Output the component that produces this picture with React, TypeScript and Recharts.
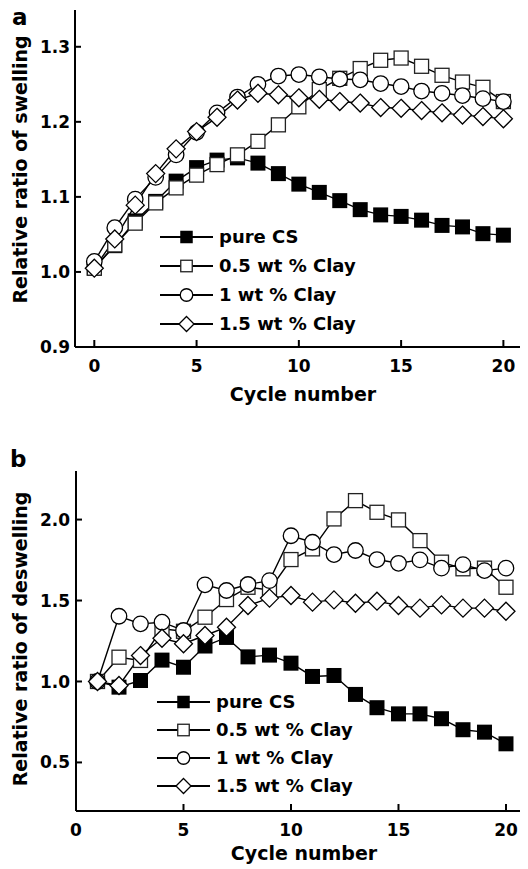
import React from 'react';
import { LineChart, Line, XAxis, YAxis, Legend, Label } from 'recharts';

const FONT = '"DejaVu Sans", "Liberation Sans", Arial, sans-serif';

// panel a: swelling
const cyclesA = [0, 1, 2, 3, 4, 5, 6, 7, 8, 9, 10, 11, 12, 13, 14, 15, 16, 17, 18, 19, 20];
const pureCsA = [1.005, 1.035, 1.068, 1.094, 1.121, 1.139, 1.149, 1.152, 1.145, 1.131, 1.117, 1.106, 1.095, 1.083, 1.076, 1.074, 1.069, 1.062, 1.06, 1.051, 1.049];
const clay05A = [1.005, 1.036, 1.065, 1.092, 1.112, 1.129, 1.143, 1.156, 1.174, 1.196, 1.22, 1.243, 1.258, 1.271, 1.282, 1.285, 1.274, 1.262, 1.253, 1.246, 1.227];
const clay1A = [1.014, 1.059, 1.097, 1.126, 1.156, 1.186, 1.212, 1.233, 1.25, 1.261, 1.263, 1.26, 1.257, 1.256, 1.251, 1.247, 1.241, 1.238, 1.235, 1.231, 1.227];
const clay15A = [1.005, 1.044, 1.089, 1.131, 1.164, 1.187, 1.206, 1.229, 1.238, 1.236, 1.232, 1.23, 1.227, 1.225, 1.219, 1.218, 1.215, 1.212, 1.209, 1.207, 1.204];

// panel b: deswelling
const cyclesB = [1, 2, 3, 4, 5, 6, 7, 8, 9, 10, 11, 12, 13, 14, 15, 16, 17, 18, 19, 20];
const pureCsB = [1.0, 0.965, 1.006, 1.132, 1.088, 1.219, 1.272, 1.152, 1.163, 1.113, 1.031, 1.037, 0.92, 0.838, 0.8, 0.8, 0.77, 0.702, 0.687, 0.615];
const clay05B = [1.0, 1.15, 1.13, 1.325, 1.31, 1.397, 1.506, 1.582, 1.565, 1.753, 1.819, 2.004, 2.117, 2.045, 1.998, 1.87, 1.737, 1.696, 1.7, 1.582];
const clay1B = [1.0, 1.403, 1.356, 1.366, 1.315, 1.597, 1.562, 1.599, 1.623, 1.9, 1.86, 1.784, 1.809, 1.753, 1.73, 1.751, 1.7, 1.722, 1.685, 1.7];
const clay15B = [1.0, 0.975, 1.16, 1.267, 1.233, 1.284, 1.335, 1.469, 1.515, 1.531, 1.49, 1.504, 1.483, 1.496, 1.469, 1.453, 1.473, 1.453, 1.453, 1.434];

const seriesNames = ['pure CS', '0.5 wt % Clay', '1 wt % Clay', '1.5 wt % Clay'];
const seriesKeys = ['pure', 'c05', 'c1', 'c15'];
const seriesMarkers = ['filledSquare', 'openSquare', 'circle', 'diamond'];

const cycleTicks = [0, 5, 10, 15, 20];
const cycleMinor = [2.5, 7.5, 12.5, 17.5];
const swellTicks = [0.9, 1.0, 1.1, 1.2, 1.3];
const swellMinor = [0.95, 1.05, 1.15, 1.25];
const deswellTicks = [0.5, 1.0, 1.5, 2.0];
const deswellMinor = [0.25, 0.75, 1.25, 1.75, 2.25];

const swellRows = cyclesA.map((c, i) => ({ cycle: c, pure: pureCsA[i], c05: clay05A[i], c1: clay1A[i], c15: clay15A[i] }));
const deswellRows = cyclesB.map((c, i) => ({ cycle: c, pure: pureCsB[i], c05: clay05B[i], c1: clay1B[i], c15: clay15B[i] }));

const axisStyle = { stroke: '#000', strokeWidth: 2 };
const minorTick = { stroke: '#000', strokeWidth: 1.5 };
const tickStyle = { fill: '#000', fontSize: 17, fontWeight: 'bold', fontFamily: FONT };
const blank = () => '';

function Marker({ kind, cx, cy, size }: { kind: string; cx: number; cy: number; size: number }) {
  const h = size / 2;
  if (kind === 'filledSquare') return <rect x={cx - h} y={cy - h} width={size} height={size} fill="#000" />;
  if (kind === 'openSquare')
    return <rect x={cx - h + 0.5} y={cy - h + 0.5} width={size - 1} height={size - 1} fill="#fff" stroke="#222" strokeWidth={1.3} />;
  if (kind === 'circle') return <circle cx={cx} cy={cy} r={h} fill="#fff" stroke="#000" strokeWidth={1.3} />;
  const d = h * 1.2;
  return (
    <polygon
      points={`${cx},${cy - d} ${cx + d},${cy} ${cx},${cy + d} ${cx - d},${cy}`}
      fill="#fff"
      stroke="#000"
      strokeWidth={1.3}
    />
  );
}

const dotFor = (kind: string) => (p: any) => {
  if (p.cx == null || p.cy == null) return <g key={`${kind}-${p.index}`} />;
  return <Marker key={`${kind}-${p.index}`} kind={kind} cx={p.cx} cy={p.cy} size={kind === 'circle' ? 15.5 : 15} />;
};

function LegendBox({ rowHeight }: { rowHeight: number }) {
  return (
    <div style={{ fontFamily: FONT, fontWeight: 'bold', fontSize: 18, color: '#000' }}>
      {seriesNames.map((name, i) => (
        <div key={name} style={{ display: 'flex', alignItems: 'center', height: rowHeight }}>
          <svg width={53} height={20} style={{ display: 'block' }}>
            <line x1={0} y1={10} x2={53} y2={10} stroke="#000" strokeWidth={2} />
            <Marker kind={seriesMarkers[i]} cx={26.5} cy={10} size={12.5} />
          </svg>
          <span style={{ marginLeft: 6, lineHeight: 1 }}>{name}</span>
        </div>
      ))}
    </div>
  );
}

// minor ticks and the top/right frame lines go on extra axes; zero-size ones first so they sit on the plot edge
function frame(xDomain: number[], yDomain: number[], yTicks: number[], yMinor: number[], rightW: number, labelOffset: number) {
  return [
    <XAxis key="bm" xAxisId="bm" type="number" dataKey="cycle" domain={xDomain} allowDataOverflow ticks={cycleMinor} interval={0}
      height={0} axisLine={false} tickLine={minorTick} tickSize={-4} tickFormatter={blank} />,
    <XAxis key="tm" xAxisId="tm" orientation="top" type="number" dataKey="cycle" domain={xDomain} allowDataOverflow ticks={cycleMinor} interval={0}
      height={0} axisLine={false} tickLine={minorTick} tickSize={-4} tickFormatter={blank} />,
    <XAxis key="t" xAxisId="t" orientation="top" type="number" dataKey="cycle" domain={xDomain} allowDataOverflow ticks={cycleTicks} interval={0}
      height={0} axisLine={axisStyle} tickLine={axisStyle} tickSize={-7} tickFormatter={blank} />,
    <XAxis key="b" type="number" dataKey="cycle" domain={xDomain} allowDataOverflow ticks={cycleTicks} interval={0}
      height={60} axisLine={axisStyle} tickLine={axisStyle} tickSize={-7} tickMargin={20} tick={tickStyle}>
      <Label value="Cycle number" position="insideBottom" offset={labelOffset} fill="#000" fontSize={19} fontWeight="bold" fontFamily={FONT} />
    </XAxis>,
    <YAxis key="lm" yAxisId="lm" type="number" domain={yDomain} allowDataOverflow ticks={yMinor} interval={0}
      width={0} axisLine={false} tickLine={minorTick} tickSize={-4} tickFormatter={blank} />,
    <YAxis key="rm" yAxisId="rm" orientation="right" type="number" domain={yDomain} allowDataOverflow ticks={yMinor} interval={0}
      width={0} axisLine={false} tickLine={minorTick} tickSize={-4} tickFormatter={blank} />,
    <YAxis key="r" yAxisId="r" orientation="right" type="number" domain={yDomain} allowDataOverflow ticks={yTicks} interval={0}
      width={rightW} axisLine={axisStyle} tickLine={axisStyle} tickSize={-7} tickFormatter={blank} />,
  ];
}

function seriesLines() {
  return seriesKeys.map((k, i) => (
    <Line key={k} dataKey={k} name={seriesNames[i]} stroke="#000" strokeWidth={1.4} dot={dotFor(seriesMarkers[i])}
      activeDot={false} isAnimationActive={false} />
  ));
}

export default function App() {
  const fmt = (v: number) => v.toFixed(1);
  return (
    <div style={{ position: 'relative' }}>
      <style>{'html, body { overflow: hidden; }'}</style>
      <div style={{ position: 'relative', width: 520, height: 861, overflow: 'hidden', background: '#fff' }}>
        <LineChart width={540} height={405} data={swellRows} margin={{ top: 2, right: 0, bottom: 6, left: 0 }}>
          {frame([-0.944, 21.35], [0.9, 1.349], swellTicks, swellMinor, 17, 6)}
          <YAxis type="number" domain={[0.9, 1.349]} allowDataOverflow ticks={swellTicks} interval={0} width={67}
            axisLine={axisStyle} tickLine={axisStyle} tickSize={-6} tickMargin={11} tick={tickStyle} tickFormatter={fmt}>
            <Label value="Relative ratio of swelling" angle={-90} position="center" dx={-21.5} dy={-9}
              fill="#000" fontSize={19} fontWeight="bold" fontFamily={FONT} />
          </YAxis>
          {seriesLines()}
          <Legend layout="vertical" align="center" verticalAlign="middle" wrapperStyle={{ left: 152, top: 214 }}
            content={() => <LegendBox rowHeight={29} />} />
        </LineChart>
        <LineChart width={540} height={460} data={deswellRows} margin={{ top: 58, right: 0, bottom: 2, left: 0 }}>
          {frame([0, 21.21], [0.2, 2.3], deswellTicks, deswellMinor, 16, 11)}
          <YAxis type="number" domain={[0.2, 2.3]} allowDataOverflow ticks={deswellTicks} interval={0} width={68}
            axisLine={axisStyle} tickLine={axisStyle} tickSize={-6} tickMargin={12} tick={tickStyle} tickFormatter={fmt}>
            <Label value="Relative ratio of deswelling" angle={-90} position="center" dx={-22} dy={-2}
              fill="#000" fontSize={19} fontWeight="bold" fontFamily={FONT} />
          </YAxis>
          {seriesLines()}
          <Legend layout="vertical" align="center" verticalAlign="middle" wrapperStyle={{ left: 149, top: 275 }}
            content={() => <LegendBox rowHeight={28} />} />
        </LineChart>
      </div>
      <svg width={528} height={869} style={{ position: 'absolute', left: -8, top: -8, pointerEvents: 'none' }}>
        <text x={12} y={25} fontFamily={FONT} fontWeight="bold" fontSize={23} fill="#000">a</text>
        <text x={10} y={467} fontFamily={FONT} fontWeight="bold" fontSize={23} fill="#000">b</text>
      </svg>
    </div>
  );
}
